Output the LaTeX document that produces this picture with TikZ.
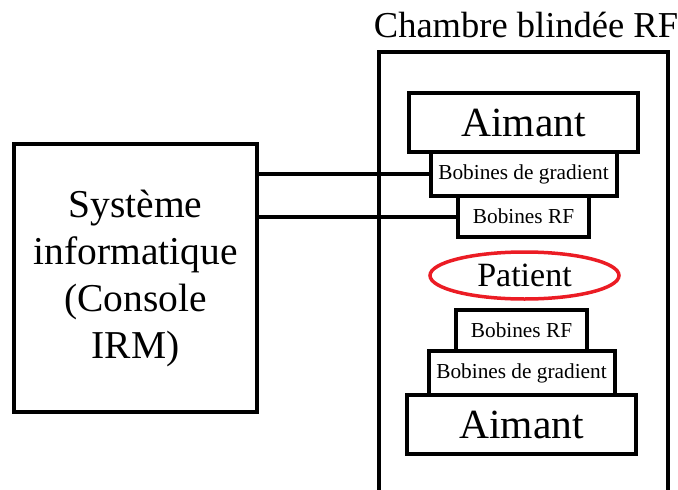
\documentclass[tikz,border=0pt]{standalone}
\usepackage{fontspec}
\setmainfont{Liberation Serif}
\usetikzlibrary{positioning,shapes.geometric}

\definecolor{rouge}{RGB}{235,28,36}

\tikzset{
  bloc/.style={draw, line width=4pt, outer sep=0pt, inner sep=0pt},
  aimant/.style={bloc, minimum width=229pt, minimum height=59pt, font=\fontsize{41.5}{48}\selectfont},
  gradient/.style={bloc, minimum width=186pt, minimum height=44pt, font=\fontsize{21.3}{25}\selectfont},
  bobrf/.style={bloc, minimum width=131pt, minimum height=41pt, font=\fontsize{21.3}{25}\selectfont}
}

\begin{document}
\begin{tikzpicture}[x=1pt, y=-1pt, line width=4pt]
  \useasboundingbox (0,0) rectangle (678,490);

  \node[bloc, minimum width=243pt, minimum height=268pt, align=center, font=\fontsize{39.5}{47}\selectfont] (sys) at (135.5,278) {Système\\informatique\\(Console\\IRM)};

  % chambre ouverte en bas
  \coordinate (chBG) at (379,490);
  \coordinate (chHG) at (379,52);
  \coordinate (chHD) at (668,52);
  \coordinate (chBD) at (668,490);
  \draw[line width=3.5pt] (chBG) -- (chHG) -- (chHD) -- (chBD);
  \node[anchor=base, font=\fontsize{36.5}{42}\selectfont] (titre) at (526,37) {Chambre blindée RF};

  \node[aimant] (aimantH) at (523.5,122.5) {Aimant};
  \node[gradient] (gradH) [below=0pt of aimantH] {Bobines de gradient};
  \node[bobrf] (rfH) [below=0pt of gradH] {Bobines RF};

  \node[ellipse, draw=rouge, line width=3.5pt, inner sep=0pt, minimum width=189pt, minimum height=47pt, font=\fontsize{34}{40}\selectfont] (patient) at (524.5,275.5) {Patient};

  \node[bobrf] (rfB) at (521.5,330.5) {Bobines RF};
  \node[gradient] (gradB) [below=0pt of rfB] {Bobines de gradient};
  \node[aimant] (aimantB) [below=0pt of gradB] {Aimant};

  \draw (gradH.west -| sys.east) -- (gradH.west);
  \draw (rfH.west -| sys.east) -- (rfH.west);
\end{tikzpicture}
\end{document}
